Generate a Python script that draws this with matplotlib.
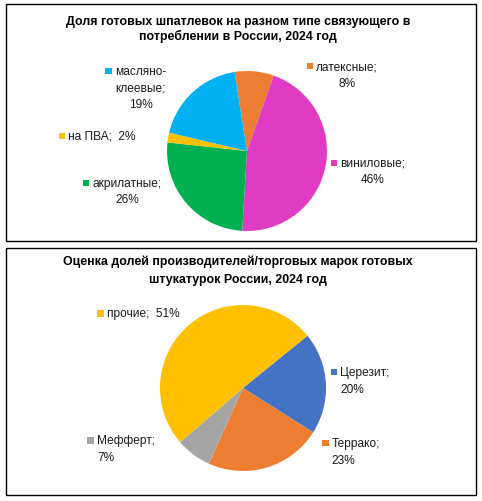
import matplotlib
matplotlib.use("Agg")
import matplotlib.pyplot as plt
from matplotlib.patches import Rectangle

plt.rcParams['font.family'] = ['Liberation Sans', 'DejaVu Sans']

# ---- data ----
title_top = ["Доля готовых шпатлевок на разном типе связующего в",
             "потреблении в России, 2024 год"]
binder_names = ['латексные', 'виниловые', 'акрилатные', 'на ПВА', 'масляно-клеевые']
binder_shares = [8, 46, 26, 2, 19]
binder_colors = ['#ED7D31', '#E03CC3', '#00B050', '#FFC000', '#00B0F0']

title_bottom = ["Оценка долей производителей/торговых марок готовых",
                "штукатурок России, 2024 год"]
brand_names = ['Церезит', 'Террако', 'Мефферт', 'прочие']
brand_shares = [20, 23, 7, 51]
brand_colors = ['#4472C4', '#ED7D31', '#A5A5A5', '#FFC000']

W, H = 482, 502
fig = plt.figure(figsize=(W / 100, H / 100), dpi=100)
fig.patch.set_facecolor('white')

# panel frames (pixels from top-left)
def frame(x0, y0, x1, y1):
    fig.add_artist(Rectangle((x0 / W, 1 - y1 / H), (x1 - x0) / W, (y1 - y0) / H,
                             transform=fig.transFigure, fill=False,
                             edgecolor='black', linewidth=1.0))

frame(6, 5, 476, 242)
frame(6, 249, 476, 496)

SPAN = 3.0

def pie_axes(cx, cy, R):
    return fig.add_axes([(cx - SPAN * R) / W, 1 - (cy + SPAN * R) / H,
                         2 * SPAN * R / W, 2 * SPAN * R / H])

def fix_limits(ax):
    ax.set_xlim(-SPAN, SPAN)
    ax.set_ylim(-SPAN, SPAN)
    ax.axis('off')

def label_lines(name, share, mode):
    if mode == 'one':
        return [f"{name};  {share}%"]
    if mode == 'three':
        a, b = name.split('-')
        return [a + '-', b + ';', f"{share}%"]
    return [f"{name};", f"{share}%"]

FS = 8.6
TFS = 8.9
keys = []

def draw_title(lines, centers_px):
    fpx = TFS * 100 / 72
    for ln, yc in zip(lines, centers_px):
        fig.text(238 / W, 1 - (yc + 0.36 * fpx) / H, ln, ha='center', va='baseline',
                 fontsize=TFS, fontweight='bold', color='black')

def draw_labels(ax, names, shares, colors, layout, R, align, spacing_px):
    for name, share, col, (x, y, mode) in zip(names, shares, colors, layout):
        lines = label_lines(name, share, mode)
        first = None
        for i, ln in enumerate(lines):
            t = ax.text(x, y - i * spacing_px / R, ln, ha=align, va='center',
                        fontsize=FS, color='#1a1a1a')
            if i == 0:
                first = t
        keys.append((first, col))

# ---- top pie ----
R1 = 80
ax1 = pie_axes(247, 152, R1)
ax1.pie(binder_shares, colors=binder_colors, startangle=99, counterclock=False,
        radius=1.0, wedgeprops=dict(linewidth=0))
fix_limits(ax1)
layout1 = [(1.25, 1.06, 'two'), (1.57, -0.15, 'two'), (-1.5, -0.40, 'two'),
           (-1.81, 0.19, 'one'), (-1.33, 1.0, 'three')]
draw_labels(ax1, binder_names, binder_shares, binder_colors, layout1, R1, 'center', 16.5)
draw_title(title_top, [20.5, 36.0])

# ---- bottom pie ----
R2 = 83
ax2 = pie_axes(243, 389, R2)
ax2.pie(brand_shares, colors=brand_colors, startangle=39, counterclock=False,
        radius=1.0, wedgeprops=dict(linewidth=0))
fix_limits(ax2)
layout2 = [(1.17, 0.19, 'two'), (1.07, -0.66, 'two'), (-1.76, -0.63, 'two'),
           (-1.64, 0.90, 'one')]
draw_labels(ax2, brand_names, brand_shares, brand_colors, layout2, R2, 'left', 17)
draw_title(title_bottom, [261.0, 278.5])

# legend keys next to first label line
fig.canvas.draw()
renderer = fig.canvas.get_renderer()
s = 6.5
for t, col in keys:
    bb = t.get_window_extent(renderer)
    ym = (bb.y0 + bb.y1) / 2
    x0 = bb.x0 - 3 - s
    fig.add_artist(Rectangle((x0 / W, (ym - s / 2) / H), s / W, s / H,
                             transform=fig.transFigure, facecolor=col,
                             edgecolor='none'))

fig.savefig('out.png', dpi=100, facecolor='white')
